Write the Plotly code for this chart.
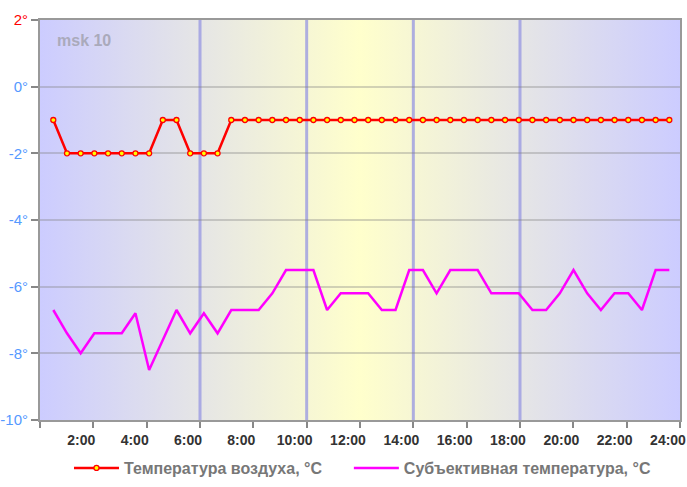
import base64
import plotly.graph_objects as go

# ---- data ----
times = ["00:30", "01:00", "01:30", "02:00", "02:30", "03:00", "03:30", "04:00",
         "04:30", "05:00", "05:30", "06:00", "06:30", "07:00", "07:30", "08:00",
         "08:30", "09:00", "09:30", "10:00", "10:30", "11:00", "11:30", "12:00",
         "12:30", "13:00", "13:30", "14:00", "14:30", "15:00", "15:30", "16:00",
         "16:30", "17:00", "17:30", "18:00", "18:30", "19:00", "19:30", "20:00",
         "20:30", "21:00", "21:30", "22:00", "22:30", "23:00"]

air_temp = [-1, -2, -2, -2, -2, -2, -2, -2, -1, -1, -2, -2, -2,
            -1, -1, -1, -1, -1, -1, -1, -1, -1, -1, -1, -1, -1, -1, -1,
            -1, -1, -1, -1, -1, -1, -1, -1, -1, -1, -1, -1, -1, -1, -1,
            -1, -1, -1]

feels_temp = [-6.7, -7.4, -8.0, -7.4, -7.4, -7.4, -6.8, -8.5, -7.6, -6.7,
              -7.4, -6.8, -7.4, -6.7, -6.7, -6.7, -6.2, -5.5, -5.5, -5.5,
              -6.7, -6.2, -6.2, -6.2, -6.7, -6.7, -5.5, -5.5, -6.2, -5.5,
              -5.5, -5.5, -6.2, -6.2, -6.2, -6.7, -6.7, -6.2, -5.5, -6.2,
              -6.7, -6.2, -6.2, -6.7, -5.5, -5.5]

hour_ticks = [0, 2, 4, 6, 8, 10, 12, 14, 16, 18, 20, 22, 24]
hour_labels = ["", "2:00", "4:00", "6:00", "8:00", "10:00", "12:00", "14:00",
               "16:00", "18:00", "20:00", "22:00", "24:00"]
marker_hours = [6, 10, 14, 18]

y_ticks = [-10, -8, -6, -4, -2, 0, 2]
y_labels = ["-10°", "-8°", "-6°", "-4°", "-2°", "0°",
            "<span style='color:#ff0000'>2°</span>"]

series_names = ["Температура воздуха, °C", "Субъективная температура, °C"]

# ---- figure ----
fig = go.Figure()
fig.add_trace(go.Scatter(
    x=times, y=air_temp, xaxis="x2", mode="lines+markers", name=series_names[0],
    line=dict(color="#ff0000", width=2.5), legend="legend",
    marker=dict(size=5, color="#ffff00", line=dict(color="#ff0000", width=1.3)),
))
fig.add_trace(go.Scatter(
    x=times, y=feels_temp, xaxis="x2", mode="lines", name=series_names[1],
    line=dict(color="#ff00ff", width=2.5), legend="legend2",
))

svg = ('<svg xmlns="http://www.w3.org/2000/svg" width="240" height="10" '
       'viewBox="0 0 240 10" preserveAspectRatio="none"><defs>'
       '<linearGradient id="g" x1="0" x2="1" y1="0" y2="0">'
       '<stop offset="0" stop-color="#ccccff"/>'
       '<stop offset="0.5" stop-color="#ffffcc"/>'
       '<stop offset="1" stop-color="#ccccff"/>'
       '</linearGradient></defs>'
       '<rect width="240" height="10" fill="url(#g)"/></svg>')
bg_src = "data:image/svg+xml;base64," + base64.b64encode(svg.encode()).decode()

shapes = [dict(type="line", xref="x", yref="y domain", x0=h, x1=h, y0=0, y1=1,
               line=dict(color="rgba(150,150,225,0.75)", width=3), layer="below")
          for h in marker_hours]

legend_style = dict(orientation="h", y=-0.12, yanchor="middle", xanchor="left",
                    font=dict(size=16, color="#777", weight="bold"),
                    itemwidth=45, bgcolor="rgba(0,0,0,0)")

fig.update_layout(
    width=687, height=487,
    margin=dict(l=40, r=7, t=20, b=67, autoexpand=False),
    paper_bgcolor="white",
    plot_bgcolor="#e6e6e6",
    font=dict(family="Liberation Sans, Arial, sans-serif"),
    images=[dict(source=bg_src, xref="paper", yref="paper", x=0, y=1,
                 sizex=1, sizey=1, xanchor="left", yanchor="top",
                 sizing="stretch", layer="below")],
    shapes=shapes,
    xaxis=dict(range=[0, 24], tickvals=hour_ticks, ticktext=hour_labels,
               ticks="outside", ticklen=6, tickwidth=2, tickcolor="#888",
               showline=True, linewidth=2, linecolor="#999", mirror=True,
               showgrid=False, zeroline=False, ticklabelshift=-12,
               automargin=False,
               tickfont=dict(size=14, color="#333", weight="bold")),
    xaxis2=dict(type="category", overlaying="x", range=[-0.9715, 45.78],
                visible=False, showgrid=False, zeroline=False, automargin=False),
    yaxis=dict(range=[-10, 2], tickvals=y_ticks, ticktext=y_labels,
               ticks="outside", ticklen=7, tickwidth=2, tickcolor="#888",
               showline=True, linewidth=2, linecolor="#999", mirror=True,
               showgrid=True, gridcolor="rgba(130,130,130,0.35)", gridwidth=2,
               zeroline=False, automargin=False,
               tickfont=dict(size=15, color="#5599ff")),
    showlegend=True,
    legend=dict(x=0.0453, **legend_style),
    legend2=dict(x=0.4826, **legend_style),
    annotations=[dict(text="msk 10", xref="paper", yref="paper", x=0.023, y=0.95,
                      xanchor="left", yanchor="middle", showarrow=False,
                      font=dict(size=16, color="#aaaabb", weight="bold"))],
)

fig.write_html("out.html",
               config={"displayModeBar": False},
               post_script="document.body.style.margin='0';"
                           "document.body.style.padding='0';"
                           "document.body.style.overflow='hidden';")
